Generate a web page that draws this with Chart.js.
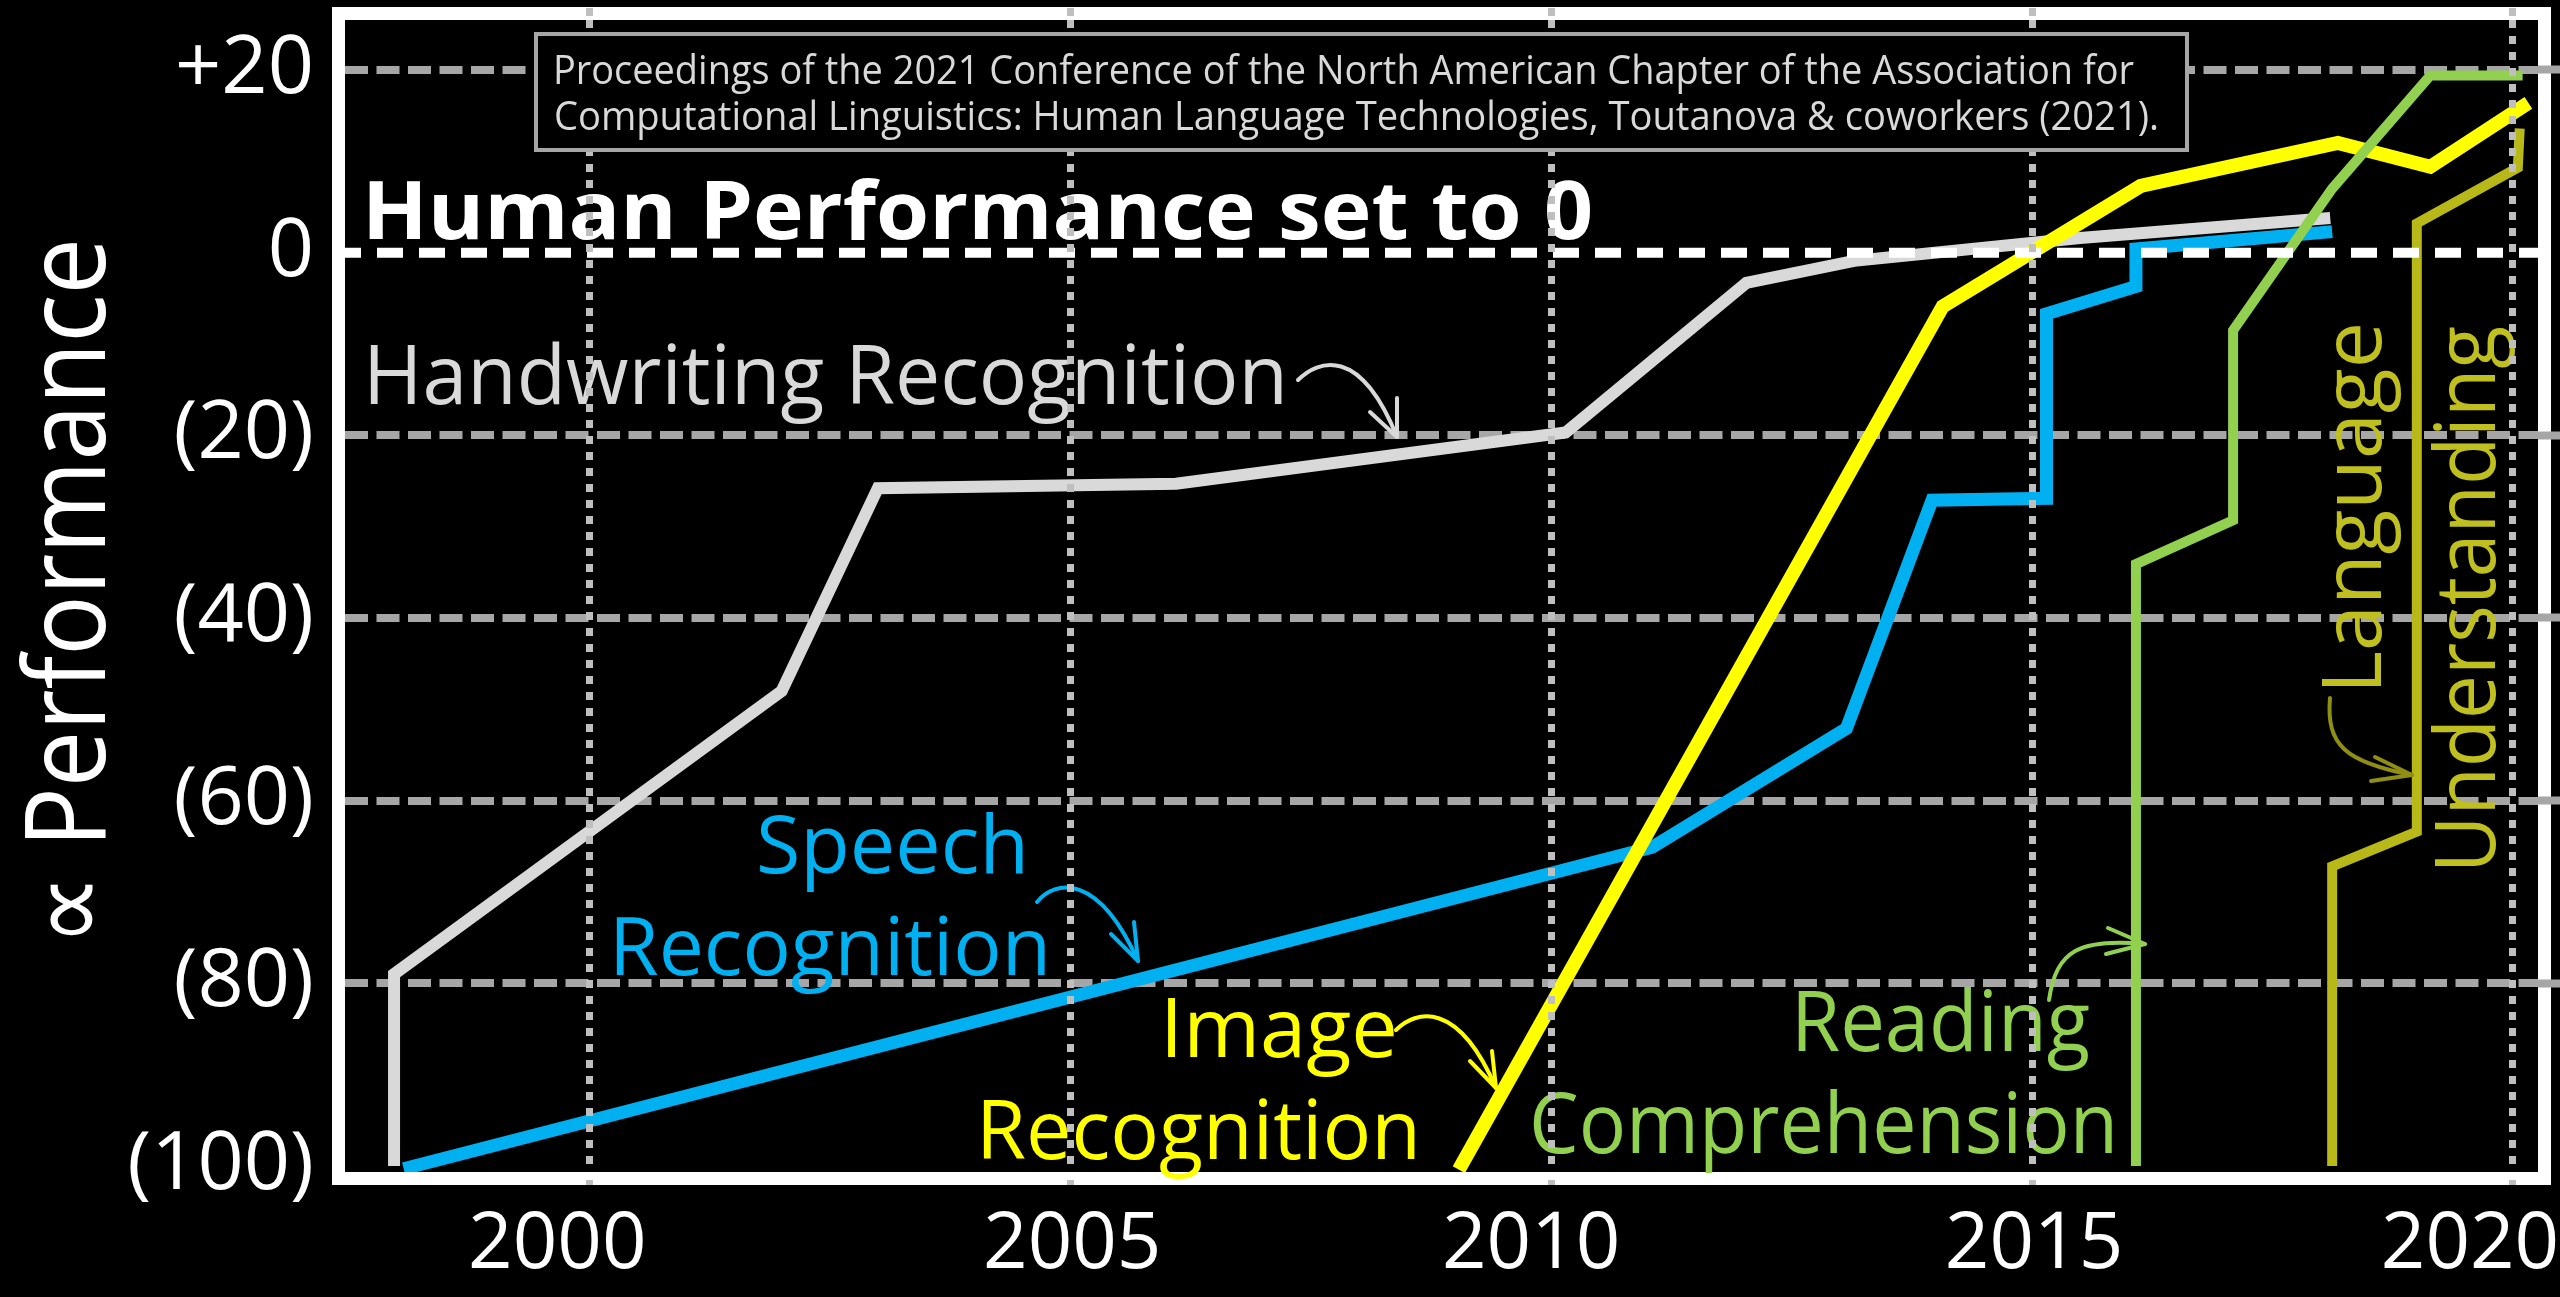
<!DOCTYPE html>
<html>
<head>
<meta charset="utf-8">
<title>AI benchmarks vs human performance</title>
<script src="https://cdn.jsdelivr.net/npm/chart.js@4.4.1/dist/chart.umd.min.js"></script>
<style>
  html, body { margin: 0; padding: 0; background: #000; }
  canvas { display: block; }
</style>
</head>
<body>
<canvas id="perfChart" width="2560" height="1297"></canvas>
<script>
// Benchmark scores relative to human performance (0 = human level), by year
const handwritingYears = [1997.97, 1997.97, 2002.0, 2003.0, 2006.1, 2010.15, 2012.03, 2013.15, 2015.5, 2018.1];
const handwritingScores = [-100, -79, -48, -25.8, -25.3, -19.7, -3.3, -0.9, 1.6, 3.8];

const speechYears = [1998.07, 2011.05, 2013.07, 2013.96, 2015.15, 2015.15, 2016.08, 2016.08, 2018.12];
const speechScores = [-100.3, -65.1, -52.1, -27.1, -26.9, -6.7, -3.7, 0.4, 2.3];

const imageYears = [2009.04, 2014.07, 2016.13, 2018.18, 2019.14, 2020.16];
const imageScores = [-100.4, -5.9, 7.3, 12.0, 9.4, 16.4];

const readingYears = [2016.08, 2016.08, 2017.09, 2017.09, 2018.12, 2019.14, 2020.1];
const readingScores = [-100, -34.1, -29.3, -8.5, 7.0, 19.4, 19.4];

const languageYears = [2018.12, 2018.12, 2019.0, 2019.0, 2020.05, 2020.07];
const languageScores = [-100, -67.2, -63.4, 3.2, 9.3, 13.6];

const humanLevel = 0;
const yearTicks = [2000, 2005, 2010, 2015, 2020];
const scoreTicks = [20, 0, -20, -40, -60, -80, -100];

const xMin = 1997.46, xMax = 2020.26;
const yMin = -100.66, yMax = 25.47;

const FONT = "'Open Sans', sans-serif";
Chart.defaults.font.family = FONT;

const toPoints = (xs, ys) => xs.map((x, i) => ({ x, y: ys[i] }));
const useTicks = values => axis => { axis.ticks = values.map(value => ({ value })); };

// text squeezed/stretched to an exact advance width
function fitText(ctx, t) {
  ctx.save();
  ctx.font = `${t.weight || 'normal'} ${t.size}px ${FONT}`;
  ctx.fillStyle = t.color;
  ctx.textBaseline = 'alphabetic';
  ctx.textAlign = 'left';
  ctx.translate(t.x, t.y);
  if (t.angle) ctx.rotate(t.angle);
  ctx.scale(t.width / ctx.measureText(t.text).width, 1);
  ctx.fillText(t.text, 0, 0);
  ctx.restore();
}

function drawArrow(ctx, a) {
  const [s, c1, c2, tip] = a.path;
  ctx.save();
  ctx.strokeStyle = a.color;
  ctx.lineWidth = 4;
  ctx.lineCap = 'round';
  ctx.lineJoin = 'round';
  ctx.beginPath();
  ctx.moveTo(s[0], s[1]);
  ctx.bezierCurveTo(c1[0], c1[1], c2[0], c2[1], tip[0], tip[1]);
  ctx.stroke();
  ctx.beginPath();
  ctx.moveTo(a.barbs[0][0], a.barbs[0][1]);
  ctx.lineTo(tip[0], tip[1]);
  ctx.lineTo(a.barbs[1][0], a.barbs[1][1]);
  ctx.stroke();
  ctx.restore();
}

const seriesLabels = [
  { text: 'Human Performance set to 0', x: 362, y: 239, width: 1231, size: 80, weight: 'bold', color: '#ffffff' },
  { text: 'Handwriting Recognition', x: 363, y: 404, width: 925, size: 82, color: '#d9d9d9' },
  { text: 'Speech', x: 756, y: 873, width: 273, size: 80, color: '#00b0f0' },
  { text: 'Recognition', x: 609, y: 975, width: 442, size: 80, color: '#00b0f0' },
  { text: 'Image', x: 1160, y: 1057, width: 238, size: 82, color: '#ffff00' },
  { text: 'Recognition', x: 976, y: 1159, width: 445, size: 82, color: '#ffff00' },
  { text: 'Reading', x: 1791, y: 1051, width: 299, size: 84, color: '#92d050' },
  { text: 'Comprehension', x: 1529, y: 1153, width: 589, size: 84, color: '#92d050' },
  { text: 'Language', x: 2381, y: 694, width: 372, size: 83, color: '#bfbf1f', angle: -Math.PI / 2 },
  { text: 'Understanding', x: 2495, y: 873, width: 547, size: 85, color: '#bfbf1f', angle: -Math.PI / 2 },
  { text: '\u221D Performance', x: 105, y: 946, width: 708, size: 112, color: '#ffffff', angle: -Math.PI / 2 }
];

const arrows = [
  { color: '#d9d9d9', path: [[1298, 380], [1318, 360], [1360, 345], [1397, 437]], barbs: [[1370, 412], [1397, 398]] },
  { color: '#00b0f0', path: [[1037, 902], [1055, 880], [1098, 872], [1138, 961]], barbs: [[1111, 934], [1134, 922]] },
  { color: '#ffff00', path: [[1396, 1030], [1416, 1010], [1458, 1000], [1496, 1088]], barbs: [[1470, 1061], [1492, 1051]] },
  { color: '#92d050', path: [[2049, 1000], [2056, 950], [2080, 938], [2145, 944]], barbs: [[2108, 928], [2106, 954]] },
  { color: '#8f8f12', path: [[2330, 698], [2326, 745], [2345, 762], [2412, 775]], barbs: [[2375, 757], [2371, 781]] }
];

const citation = [
  'Proceedings of the 2021 Conference of the North American Chapter of the Association for',
  'Computational Linguistics: Human Language Technologies, Toutanova & coworkers (2021).'
];

// year captions sit a little off their grid lines
const yearLabelShift = [-32, 2, -20, 2, -43];

const posterPlugin = {
  id: 'poster',
  beforeDraw(chart) {
    const { ctx, chartArea: a } = chart;
    ctx.save();
    ctx.fillStyle = '#000';
    ctx.fillRect(0, 0, chart.width, chart.height);
    // heavy white frame round the plot
    ctx.strokeStyle = '#fff';
    ctx.lineWidth = 13;
    ctx.strokeRect(a.left - 6.5, a.top - 6.5, a.right - a.left + 13, a.bottom - a.top + 13);
    ctx.restore();
  },
  afterDatasetsDraw(chart) {
    const { ctx } = chart;
    seriesLabels.forEach(t => fitText(ctx, t));
    arrows.forEach(a => drawArrow(ctx, a));
  },
  afterDraw(chart) {
    const { ctx } = chart;
    const xs = chart.scales.x;
    ctx.save();
    ctx.font = `78px ${FONT}`;
    ctx.fillStyle = '#fff';
    ctx.textAlign = 'center';
    ctx.textBaseline = 'alphabetic';
    yearTicks.forEach((yr, i) => ctx.fillText(String(yr), xs.getPixelForValue(yr) + yearLabelShift[i], 1268));

    ctx.fillStyle = '#000';
    ctx.fillRect(536, 34, 1651, 116);
    ctx.strokeStyle = '#a6a6a6';
    ctx.lineWidth = 4;
    ctx.strokeRect(536, 34, 1651, 116);
    ctx.restore();
    fitText(ctx, { text: citation[0], x: 553, y: 84, width: 1581, size: 40, color: '#d9d9d9' });
    fitText(ctx, { text: citation[1], x: 554, y: 130, width: 1605, size: 40, color: '#d9d9d9' });
  }
};

const line = (label, xs, ys, color, width, order) => ({
  label, data: toPoints(xs, ys), borderColor: color, borderWidth: width, order
});

const hGridColor = c => {
  const v = c.tick && c.tick.value;
  return (v === humanLevel || v === -100) ? 'rgba(0,0,0,0)' : '#a6a6a6';
};

new Chart(document.getElementById('perfChart'), {
  type: 'line',
  data: {
    datasets: [
      { label: 'Human performance', data: [{ x: xMin, y: humanLevel }, { x: xMax, y: humanLevel }],
        borderColor: '#ffffff', borderWidth: 10, borderDash: [26, 16], borderDashOffset: 10, order: 0 },
      line('Reading Comprehension', readingYears, readingScores, '#92d050', 10, 1),
      line('Language Understanding', languageYears, languageScores, '#b8b818', 10, 2),
      line('Image Recognition', imageYears, imageScores, '#ffff00', 14, 3),
      line('Speech Recognition', speechYears, speechScores, '#00b0f0', 13, 4),
      line('Handwriting Recognition', handwritingYears, handwritingScores, '#d9d9d9', 12, 5)
    ]
  },
  options: {
    responsive: false,
    animation: false,
    devicePixelRatio: 1,
    layout: { padding: 0 },
    elements: {
      point: { radius: 0, hoverRadius: 0 },
      line: { tension: 0, borderJoinStyle: 'miter', borderCapStyle: 'butt', fill: false }
    },
    plugins: {
      legend: { display: false },
      tooltip: { enabled: false }
    },
    scales: {
      x: {
        type: 'linear',
        position: 'bottom',
        min: xMin,
        max: xMax,
        afterBuildTicks: useTicks(yearTicks),
        afterFit: axis => { axis.height = 125; axis.paddingLeft = 0; axis.paddingRight = 0; },
        grid: {
          color: '#bfbfbf', lineWidth: 7, z: 1,
          drawTicks: true, tickLength: 13, tickColor: '#bfbfbf', tickWidth: 7,
          tickBorderDash: [8, 8], tickBorderDashOffset: 8
        },
        border: { display: false, dash: [8, 8] },
        ticks: { display: false }
      },
      xTop: {
        type: 'linear',
        position: 'top',
        min: xMin,
        max: xMax,
        afterBuildTicks: useTicks(yearTicks),
        afterFit: axis => { axis.height = 20; axis.paddingLeft = 0; axis.paddingRight = 0; },
        grid: {
          drawOnChartArea: false, z: 1,
          drawTicks: true, tickLength: 12, tickColor: '#bfbfbf', tickWidth: 7, tickBorderDash: [8, 8]
        },
        border: { display: false },
        ticks: { display: false }
      },
      y: {
        type: 'linear',
        position: 'left',
        min: yMin,
        max: yMax,
        afterBuildTicks: useTicks(scoreTicks),
        afterFit: axis => { axis.width = 345; axis.paddingTop = 0; axis.paddingBottom = 0; },
        grid: { color: hGridColor, lineWidth: 8, drawTicks: false },
        border: { display: false, dash: [23, 8.5] },
        ticks: {
          color: '#ffffff',
          font: { size: 81 },
          padding: 31,
          autoSkip: false,
          callback: v => v > 0 ? '+' + v : v === 0 ? '0' : '(' + (-v) + ')'
        }
      },
      yRight: {
        type: 'linear',
        position: 'right',
        min: yMin,
        max: yMax,
        afterBuildTicks: useTicks(scoreTicks),
        afterFit: axis => { axis.width = 22; axis.paddingTop = 0; axis.paddingBottom = 0; },
        grid: {
          drawOnChartArea: false,
          drawTicks: true, tickLength: 22, tickColor: hGridColor, tickWidth: 8
        },
        border: { display: false },
        ticks: { display: false }
      }
    }
  },
  plugins: [posterPlugin]
});
</script>
</body>
</html>
